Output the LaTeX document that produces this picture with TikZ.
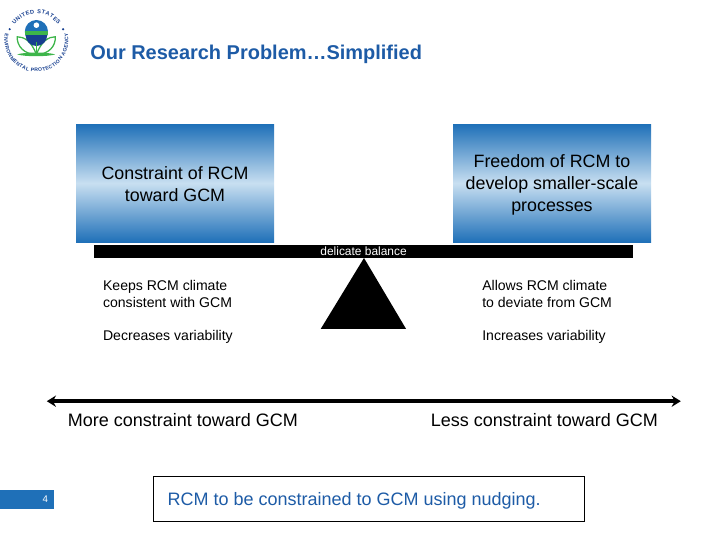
\documentclass[tikz,border=0pt]{standalone}
\usepackage{xcolor}
\usepackage{fontspec}
\setmainfont{Liberation Sans}
\usetikzlibrary{arrows.meta, decorations.text}
\definecolor{epablue}{HTML}{1F70B8}
\definecolor{epalight}{HTML}{C8DFF1}
\definecolor{epatitle}{HTML}{1D5BA6}
\definecolor{epagreen}{HTML}{3DB54A}
\definecolor{epanavy}{HTML}{173F8F}

\begin{document}
\begin{tikzpicture}[
  gradbox/.style={minimum width=4.95cm, minimum height=2.95cm, align=center, inner sep=0pt, top color=epablue, bottom color=epablue, middle color=epalight, font=\fontsize{12.7}{15.6}\selectfont},
  bodytext/.style={anchor=west, align=left, inner sep=0pt, font=\fontsize{10}{12.2}\selectfont},
  scaletext/.style={inner sep=0pt, font=\fontsize{12.8}{14}\selectfont},
  sealtext/.style={decorate, decoration={text along path, text align={fit to path}, text={#1}}},
  leaf/.style={draw=epagreen, line width=0.9pt, fill=white}
]
\useasboundingbox (0,0) rectangle (18,13.5);
% seal
\path[sealtext={|\fontsize{4}{4}\selectfont\bfseries\color{epanavy}|UNITED STATES}] (0.91,12.5) ++(145:0.66) arc (145:35:0.66);
\path[sealtext={|\fontsize{3.6}{4}\selectfont\bfseries\color{epanavy}|ENVIRONMENTAL PROTECTION AGENCY}] (0.91,12.5) ++(168:0.8) arc (168:372:0.8);
\fill[epanavy] (0.91,12.5) ++(158:0.72) circle (0.03);
\fill[epanavy] (0.91,12.5) ++(22:0.72) circle (0.03);
\draw[leaf] (0.91,12.14) .. controls (0.78,12.48) and (0.6,12.58) .. (0.43,12.58) .. controls (0.42,12.35) and (0.6,12.14) .. (0.91,12.14);
\draw[leaf] (0.91,12.14) .. controls (1.04,12.48) and (1.22,12.58) .. (1.38,12.58) .. controls (1.4,12.35) and (1.22,12.14) .. (0.91,12.14);
\fill[epablue] (0.91,12.71) circle (0.29);
\fill[white] (0.91,12.87) circle (0.07);
\fill[epagreen] (0.62,12.72) rectangle (1.2,12.62);
\fill[epanavy] (0.64,12.62) arc (180:360:0.27) -- cycle;
\fill[epagreen] (0.89,12.45) rectangle (0.93,12.1);
\fill[epagreen] (0.43,12.14) .. controls (0.6,12.2) and (1.2,12.2) .. (1.38,12.14) .. controls (1.2,12.08) and (0.6,12.08) .. (0.43,12.14);
% title
\node[anchor=west, inner sep=0pt, text=epatitle, font=\fontsize{14.2}{16}\selectfont\bfseries] (title) at (2.25,12.13) {Our Research Problem…Simplified};
% balance
\node[gradbox] (constraintbox) at (4.375,8.92) {\rule{0pt}{11pt}Constraint of RCM\\toward GCM};
\node[gradbox] (freedombox) at (13.8,8.92) {\rule{0pt}{12pt}Freedom of RCM to\\develop smaller-scale\\processes};
\coordinate (apex) at (9.1,7.05);
\coordinate (baseL) at (8.02,5.28);
\coordinate (baseR) at (10.15,5.28);
\fill (apex) -- (baseR) -- (baseL) -- cycle;
\node[fill=black, text=white, minimum width=13.475cm, minimum height=0.32cm, inner sep=0pt, font=\fontsize{8.5}{10}\selectfont] (beam) at (9.09,7.22) {delicate balance};
\node[bodytext] (keeps) at (2.57,6.15) {Keeps RCM climate\\consistent with GCM};
\node[bodytext] (allows) at (12.05,6.15) {Allows RCM climate\\to deviate from GCM};
\node[bodytext] (decreases) at (2.57,5.07) {Decreases variability};
\node[bodytext] (increases) at (12.05,5.07) {Increases variability};
% scale
\coordinate (leftend) at (1.17,3.47);
\coordinate (rightend) at (17.02,3.47);
\draw[line width=2.6pt, {Stealth[length=6.5pt,width=8pt]}-{Stealth[length=6.5pt,width=8pt]}] (leftend) -- (rightend);
\node[scaletext] (moretext) at (4.575,3.01) {More constraint toward GCM};
\node[scaletext] (lesstext) at (13.61,3.01) {Less constraint toward GCM};
% footer
\node[anchor=west, fill=epablue, text=white, minimum width=1.35cm, minimum height=0.475cm, inner sep=0pt, font=\fontsize{6.9}{7}\selectfont] (pagebar) at (0,1.01) {\hspace{0.9cm}4};
\node[draw=black, line width=0.5pt, minimum width=10.78cm, minimum height=1.125cm, inner sep=0pt, text=epatitle, font=\fontsize{12.8}{14}\selectfont] (nudging) at (9.215,1.04) {\hspace{-0.725cm}\rule{0pt}{12.5pt}RCM to be constrained to GCM using nudging.};
\end{tikzpicture}
\end{document}
